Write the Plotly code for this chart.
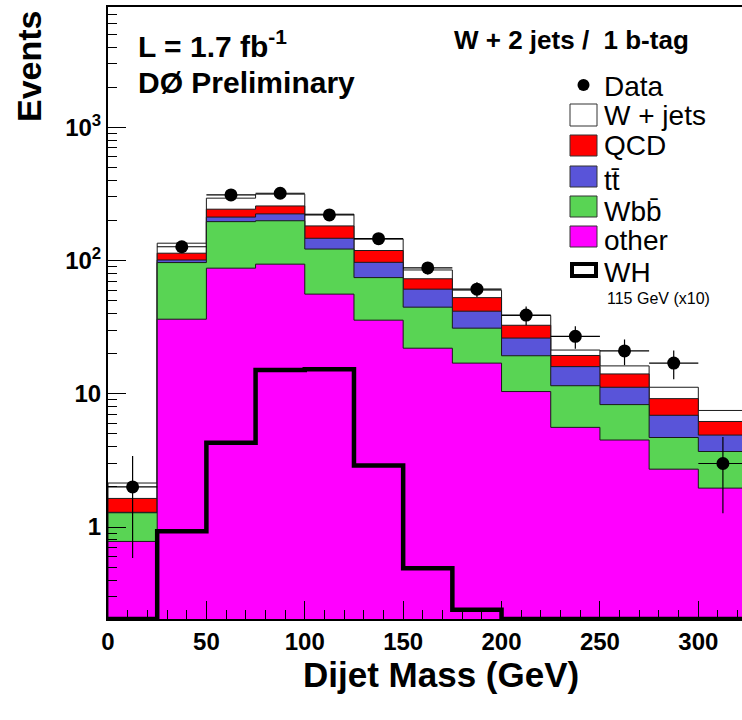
import numpy as np
import plotly.graph_objects as go

# ---------------- data ----------------
bin_edges = [0, 25, 50, 75, 100, 125, 150, 175, 200, 225, 250, 275, 300, 325]
data_counts = [2, 127, 311, 320, 220, 146, 88, 61, 39, 27, 21, 17, 3]
other = [0.78, 36.3, 87.7, 94.0, 56.0, 35.7, 22.0, 17.0, 10.4, 5.6, 4.5, 2.72, 1.96]
wbb = [0.50, 60.3, 108.3, 105.0, 66.0, 38.8, 22.7, 14.1, 8.9, 5.9, 3.8, 1.98, 1.73]
ttbar = [0.01, 4.4, 16.0, 25.0, 25.0, 22.5, 16.3, 10.6, 6.9, 4.5, 2.9, 2.2, 1.21]
qcd = [0.35, 12.6, 31.0, 33.0, 35.0, 22.0, 12.0, 11.0, 6.5, 3.4, 2.9, 2.3, 1.3]
wjets = [0.50, 21.4, 51.0, 58.0, 41.0, 26.0, 12.0, 7.3, 6.0, 1.9, 2.1, 2.0, 1.3]
wh_x10 = [0, 0.93, 4.3, 15.1, 15.3, 2.9, 0.49, 0.24, 0, 0, 0, 0, 0]

x_tick_vals = [0, 50, 100, 150, 200, 250, 300]
y_tick_vals = [1, 10, 100, 1000]
y_tick_text = ["1", "10", "10<sup>2</sup>", "10<sup>3</sup>"]

# ---------------- styling ----------------
FONT = "Liberation Sans"
C_OTHER = "#FF00FF"
C_WBB = "#59D454"
C_TT = "#5954D9"
C_QCD = "#FF0000"
C_WJ = "#FFFFFF"
OUTLINE = "#1a1a1a"

YLOG_MIN, YLOG_MAX = -0.69, 3.903
XMAX = 322.2
yfloor = 10 ** YLOG_MIN

edges = np.array(bin_edges, float)
centers = (edges[:-1] + edges[1:]) / 2
half_w = (edges[1] - edges[0]) / 2

comps = np.array([other, wbb, ttbar, qcd, wjets])
cum = np.cumsum(comps, axis=0)
fills = [C_OTHER, C_WBB, C_TT, C_QCD, C_WJ]

fig = go.Figure()

# stacked histogram: draw cumulative levels from the top down (THStack style)
for k in reversed(range(len(comps))):
    vals = cum[k]
    xs, ys = [edges[0]], [yfloor]
    for i in range(len(vals)):
        xs += [edges[i], edges[i + 1]]
        ys += [vals[i], vals[i]]
    xs.append(edges[-1])
    ys.append(yfloor)
    fig.add_trace(go.Scatter(x=xs, y=ys, mode="lines", fill="toself",
                             fillcolor=fills[k], line=dict(color=OUTLINE, width=1),
                             hoverinfo="skip", showlegend=False))

# WH signal (x10) step line
wh_plot = np.maximum(np.array(wh_x10, float), yfloor)
fig.add_trace(go.Scatter(x=edges, y=list(wh_plot) + [wh_plot[-1]], mode="lines",
                         line=dict(color="black", width=4.5, shape="hv"),
                         hoverinfo="skip", showlegend=False))

# data points
dc = np.array(data_counts, float)
fig.add_trace(go.Scatter(x=centers, y=dc, mode="markers",
                         marker=dict(color="black", size=13),
                         error_y=dict(type="data", array=np.sqrt(dc), color="black",
                                      thickness=1.2, width=0),
                         error_x=dict(type="constant", value=half_w, color="black",
                                      thickness=1.2, width=0),
                         showlegend=False))

# ---------------- layout ----------------
L, T, R, B = 108, 7, 742, 619
W, H = 742, 720


def px(xp):
    return (xp - L) / (R - L)


def py(yp):
    return (B - yp) / (B - T)


minor_y = []
for d in [0.1, 1, 10, 100, 1000]:
    for m in range(2, 10):
        minor_y.append(m * d)

fig.update_layout(
    width=W, height=H,
    margin=dict(l=L, r=W - R, t=T, b=H - B, autoexpand=False),
    paper_bgcolor="white", plot_bgcolor="white",
    showlegend=False,
    font=dict(family=FONT, color="black"),
    xaxis=dict(range=[0, XMAX], showgrid=False, zeroline=False,
               showline=True, linewidth=2, linecolor="black", mirror=True,
               ticks="inside", ticklen=18, tickwidth=1.3, tickcolor="black",
               tickmode="array", tickvals=x_tick_vals,
               ticktext=[str(v) for v in x_tick_vals],
               tickfont=dict(family=FONT, size=24, weight="bold"),
               minor=dict(ticks="inside", ticklen=9, tickwidth=1.3,
                          tickcolor="black", dtick=10, tick0=0),
               automargin=False),
    yaxis=dict(type="log", range=[YLOG_MIN, YLOG_MAX], showgrid=False,
               zeroline=False, showline=True, linewidth=2, linecolor="black",
               ticks="inside", ticklen=18, tickwidth=1.3, tickcolor="black",
               tickmode="array", tickvals=y_tick_vals, ticktext=y_tick_text,
               tickfont=dict(family=FONT, size=24, weight="bold"),
               minor=dict(ticks="inside", ticklen=9, tickwidth=1.3,
                          tickcolor="black", tickmode="array", tickvals=minor_y),
               automargin=False),
)

ann = []
# axis titles
ann.append(dict(text="<b>Dijet Mass (GeV)</b>", x=px(441), y=py(675), xref="paper",
                yref="paper", showarrow=False, xanchor="center", yanchor="middle",
                font=dict(family=FONT, size=35)))
ann.append(dict(text="<b>Events</b>", x=px(29), y=py(66), xref="paper", yref="paper",
                showarrow=False, xanchor="center", yanchor="middle", textangle=-90,
                font=dict(family=FONT, size=34)))
# labels
ann.append(dict(text="<b>L = 1.7 fb<sup>-1</sup></b>", x=px(136), y=py(44), xref="paper",
                yref="paper", showarrow=False, xanchor="left", yanchor="middle",
                font=dict(family=FONT, size=30)))
ann.append(dict(text="<b>DØ Preliminary</b>", x=px(136), y=py(82), xref="paper",
                yref="paper", showarrow=False, xanchor="left", yanchor="middle",
                font=dict(family=FONT, size=30)))
ann.append(dict(text="<b>W + 2 jets /  1 b-tag</b>", x=px(452), y=py(40), xref="paper",
                yref="paper", showarrow=False, xanchor="left", yanchor="middle",
                font=dict(family=FONT, size=26)))

# custom legend
shapes = []
leg_items = [
    ("W + jets", C_WJ, 104, 126, 115),
    ("QCD", C_QCD, 135, 156, 146),
    ("tt\u0304", C_TT, 166, 187, 180),
    ("Wbb\u0304", C_WBB, 196, 217, 211),
    ("other", C_OTHER, 226, 247, 240),
]
for name, col, y0, y1, ty in leg_items:
    shapes.append(dict(type="rect", xref="paper", yref="paper", x0=px(570), x1=px(597),
                       y0=py(y1), y1=py(y0), fillcolor=col,
                       line=dict(color="#333333", width=1)))
    ann.append(dict(text=name, x=px(602), y=py(ty), xref="paper", yref="paper",
                    showarrow=False, xanchor="left", yanchor="middle",
                    font=dict(family=FONT, size=28)))
# WH legend box
shapes.append(dict(type="rect", xref="paper", yref="paper", x0=px(572), x1=px(596),
                   y0=py(276), y1=py(264), fillcolor="white",
                   line=dict(color="black", width=4)))
ann.append(dict(text="WH", x=px(602), y=py(272), xref="paper", yref="paper",
                showarrow=False, xanchor="left", yanchor="middle",
                font=dict(family=FONT, size=28)))
ann.append(dict(text="115 GeV (x10)", x=px(605), y=py(298), xref="paper", yref="paper",
                showarrow=False, xanchor="left", yanchor="middle",
                font=dict(family=FONT, size=16)))
# Data legend marker
shapes.append(dict(type="circle", xref="paper", yref="paper", x0=px(577.5), x1=px(589.5),
                   y0=py(91), y1=py(79), fillcolor="black", line=dict(color="black", width=0)))
ann.append(dict(text="Data", x=px(602), y=py(87), xref="paper", yref="paper",
                showarrow=False, xanchor="left", yanchor="middle",
                font=dict(family=FONT, size=28)))

fig.update_layout(annotations=ann, shapes=shapes)
fig.write_html("out.html")
